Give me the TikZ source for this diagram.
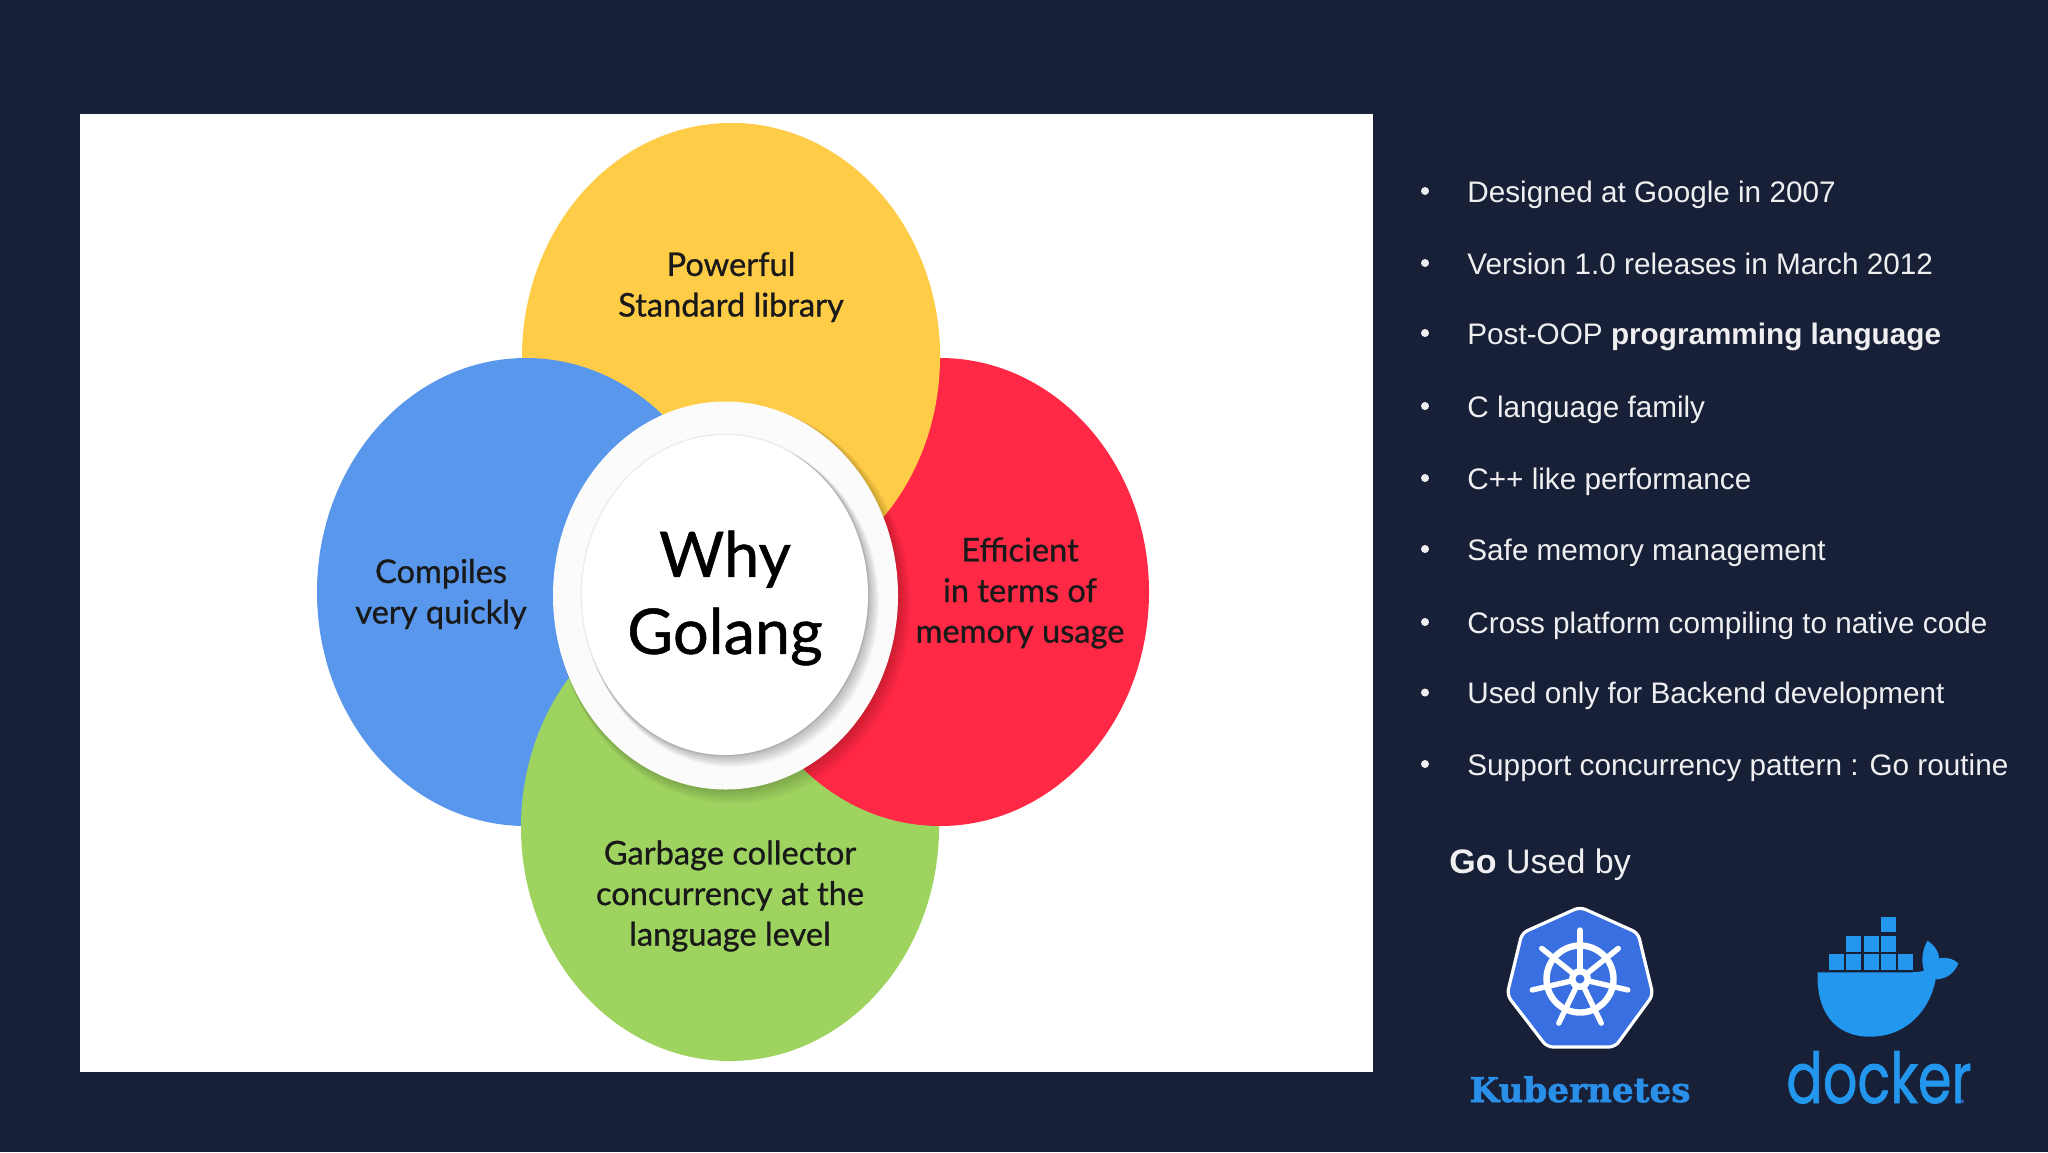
\documentclass[tikz,border=0pt]{standalone}
\usepackage{fontspec}
\setmainfont{Liberation Sans}
\newfontfamily\labfont[FakeBold=0.8]{Lato}
\newfontfamily\kubefont[FakeBold=1.5]{DejaVu Serif Bold}
\newfontfamily\dockfont[FakeBold=1.2]{Poppins}
\definecolor{bgc}{HTML}{172036}
\definecolor{yelc}{HTML}{FFCC47}
\definecolor{bluc}{HTML}{5897EC}
\definecolor{redc}{HTML}{FF2845}
\definecolor{grec}{HTML}{9FD360}
\definecolor{ringc}{HTML}{FBFBFB}
\definecolor{kubc}{HTML}{396FE0}
\definecolor{kubt}{HTML}{2A8FE8}
\definecolor{dokc}{HTML}{2396ED}
\tikzset{
  petaltext/.style={font=\labfont\fontsize{16.3}{20.3}\selectfont, align=center, text=black!90},
  listtext/.style={anchor=base west, text=white!93!bgc, font=\fontsize{14.85}{18}\selectfont},
  listdot/.style={circle, fill=white!93!bgc, inner sep=0pt, minimum size=4pt},
  cargo/.style={fill=dokc},
}
\begin{document}
\begin{tikzpicture}[x=0.5pt,y=-0.5pt]
\useasboundingbox (0,0) rectangle (2048,1152);
\fill[bgc] (0,0) rectangle (2048,1152);
\fill[white] (79.5,114) rectangle (1373,1072);
% petals (cyclic overlap)
\fill[yelc] (731,357) ellipse [x radius=209, y radius=234];
\fill[bluc] (526,592) ellipse [x radius=209, y radius=234];
\fill[grec] (730,827) ellipse [x radius=209, y radius=234];
\fill[redc] (940,592) ellipse [x radius=209, y radius=234];
\begin{scope}
  \clip (731,100) rectangle (1000,600);
  \fill[yelc] (731,357) ellipse [x radius=209, y radius=234];
\end{scope}
% outer disc with soft shadow
\foreach \i in {1,...,10}{
  \fill[black, opacity=0.02] (725.5+\i*0.8,595.5+\i*0.9) ellipse [x radius=172.5+\i*0.5, y radius=194+\i*0.5];
}
\fill[ringc] (725.5,595.5) ellipse [x radius=172.5, y radius=194];
% inner disc with soft shadow
\foreach \i in {1,...,10}{
  \fill[black, opacity=0.028] (725+\i*0.7,595+\i*0.8) ellipse [x radius=143+\i*0.4, y radius=160+\i*0.4];
}
\fill[black, opacity=0.06] (725,595) ellipse [x radius=144.5, y radius=161.5];
\fill[white] (725,595) ellipse [x radius=143, y radius=160];
% labels
\node[petaltext] (powerful) at (731,287) {Powerful\\Standard library};
\node[petaltext] (compiles) at (441,594) {Compiles\\very quickly};
\node[petaltext] (efficient) at (1020,593) {Efficient\\in terms of\\memory usage};
\node[petaltext] (garbage) at (730,896) {Garbage collector\\concurrency at the\\language level};
\node[font=\labfont\fontsize{31.5}{38.5}\selectfont, align=center, text=black] (why) at (725,598) {Why\\Golang};
% list
\foreach \nm/\yy/\txt in {
  a/202/{Designed at Google in 2007},
  b/274/{Version 1.0 releases in March 2012},
  c/344/{Post-OOP \textbf{programming language}},
  d/417/{C language family},
  e/489/{C++ like performance},
  f/560/{Safe memory management},
  g/633/{Cross platform compiling to native code},
  h/703.5/{Used only for Backend development},
  i/775/{Support concurrency pattern : Go routine}}{
  \node[listdot] (dot\nm) at (1425,\yy-11) {};
  \node[listtext, inner sep=0pt] (item\nm) at (1467,\yy) {\txt};
}
\node[listtext, inner sep=0pt, font=\fontsize{17}{20}\selectfont] (usedby) at (1449,873) {\textbf{Go} Used by};
% Kubernetes logo
\fill[kubc, draw=white, line width=1.6pt, rounded corners=3pt]
  (1580,907) -- (1638,933) -- (1653,995) -- (1615,1047) -- (1547,1047) -- (1507,995) -- (1522,933) -- cycle;
\begin{scope}[shift={(1580,979)}]
  \draw[white, line width=3.2pt] (0,0) circle (33.5);
  \foreach \a in {-90,-38.6,12.9,64.3,115.7,167.1,218.6}{
    \draw[white, line width=2.7pt, line cap=round] (0,0) -- (\a:49);
  }
  \fill[white] (0,0) circle (11);
  \fill[kubc] (0,0) circle (4.5);
\end{scope}
\node[text=kubt, font=\kubefont\fontsize{17.1}{20}\selectfont, inner sep=0pt, anchor=base] (kube) at (1580,1102) {Kubernetes};
% Docker logo
\begin{scope}[shift={(1770,900)}, x=0.16667pt, y=-0.16667pt]
  \fill[cargo] (333,50) rectangle (378,97);
  \foreach \xa in {229,281,333}{ \fill[cargo] (\xa,107) rectangle ++(45,48); }
  \foreach \xa in {177,229,281,333,385}{ \fill[cargo] (\xa,163) rectangle ++(45,47); }
  \fill[dokc] (143,217) -- (410,217) .. controls (435,217) and (450,216) .. (462,212)
    .. controls (452,180) and (458,145) .. (473,122)
    .. controls (495,138) and (507,155) .. (507,175)
    .. controls (530,170) and (552,177) .. (565,190)
    .. controls (553,222) and (525,238) .. (497,238)
    .. controls (480,330) and (410,410) .. (300,410)
    .. controls (190,410) and (138,330) .. (143,217) -- cycle;
  \fill[kubc!70!bgc] (576,604) circle (6);
\end{scope}
\node[text=dokc, font=\dockfont\fontsize{27}{30}\selectfont, inner sep=0pt, anchor=base] (docker) at (1879,1103) {\scalebox{1}[1.3]{docker}};
\end{tikzpicture}
\end{document}
